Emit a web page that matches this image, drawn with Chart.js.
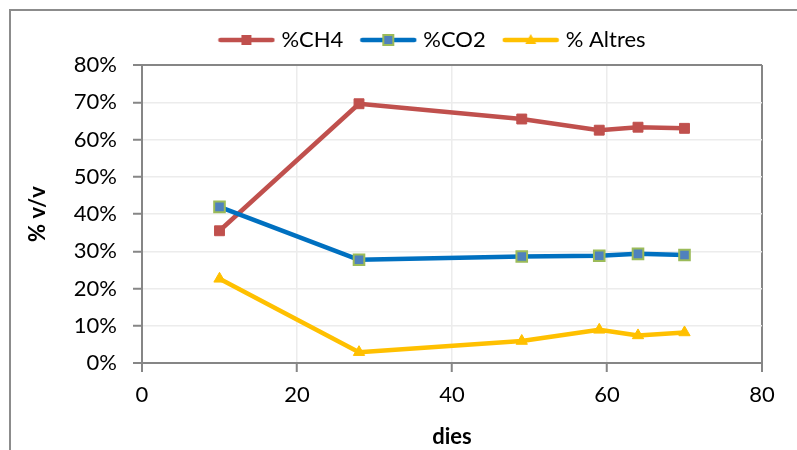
<!DOCTYPE html>
<html>
<head>
<meta charset="utf-8">
<script src="https://cdn.jsdelivr.net/npm/chart.js@4.4.1/dist/chart.umd.min.js"></script>
<style>
  html, body { margin: 0; padding: 0; background: #fff; }
  #wrap { width: 797px; height: 450px; }
</style>
</head>
<body>
<div id="wrap"><canvas id="c" width="797" height="450"></canvas></div>
<script>
// Gas composition over time (percent by volume)
const days   = [10, 28, 49, 59, 64, 70];
const ch4    = [35.5, 69.6, 65.5, 62.5, 63.3, 63.0];
const co2    = [41.9, 27.7, 28.6, 28.8, 29.3, 29.0];
const altres = [22.6, 2.9, 5.9, 8.9, 7.4, 8.2];

const seriesNames = ['%CH4', '%CO2', '% Altres'];
const xTickValues = [0, 20, 40, 60, 80];
const yTickValues = [0, 10, 20, 30, 40, 50, 60, 70, 80];
const xTitle = 'dies';
const yTitle = '% v/v';

const FONT = 'Lato, "Liberation Sans", sans-serif';
const AXIS_GRAY = '#868686';
const GRID_GRAY = '#ececec';
const RED = '#C0504D', BLUE = '#0070C0', MARKER_BLUE = '#4F81BD', GREEN = '#9BBB59', GOLD = '#FFC000';

Chart.defaults.font.family = FONT;
Chart.defaults.font.size = 22;
Chart.defaults.color = '#000';

const points = (ys) => days.map((d, i) => ({ x: d, y: ys[i] }));

// Legend swatches: a short line with the series marker in the middle
function swatch(color, drawMarker) {
  const c = document.createElement('canvas');
  c.width = 58; c.height = 22;
  const g = c.getContext('2d');
  g.strokeStyle = color; g.lineWidth = 4.5; g.lineCap = 'round';
  g.beginPath(); g.moveTo(3, 11); g.lineTo(55, 11); g.stroke();
  drawMarker(g, 29, 11);
  return c;
}
const swatches = [
  swatch(RED, (g, x, y) => { g.fillStyle = RED; g.fillRect(x - 5, y - 5, 10, 10); }),
  swatch(BLUE, (g, x, y) => {
    g.fillStyle = MARKER_BLUE; g.fillRect(x - 5, y - 5, 10, 10);
    g.strokeStyle = GREEN; g.lineWidth = 2; g.strokeRect(x - 5, y - 5, 10, 10);
  }),
  swatch(GOLD, (g, x, y) => {
    g.fillStyle = GOLD; g.beginPath(); g.moveTo(x, y - 6); g.lineTo(x + 5.5, y + 4); g.lineTo(x - 5.5, y + 4); g.closePath(); g.fill();
  })
];

const LEGEND_CENTER_X = 434;
const LEGEND_EXTRA_GAP = 4;

const layoutTweaks = {
  id: 'layoutTweaks',
  afterInit(chart) {
    const lg = chart.legend;
    const fit = lg.fit;
    lg.fit = function () { fit.call(this); this.height += LEGEND_EXTRA_GAP; };
  },
  afterLayout(chart) {
    const lg = chart.legend;
    const dx = LEGEND_CENTER_X - (lg.left + lg.right) / 2;
    lg.left += dx; lg.right += dx;
  },
  beforeDraw(chart) {
    const ctx = chart.ctx;
    ctx.save();
    ctx.fillStyle = '#fff';
    ctx.fillRect(0, 0, chart.width, chart.height);
    ctx.strokeStyle = '#8c8c8c';
    ctx.lineWidth = 2;
    ctx.strokeRect(10, 10, 2000, 2000);
    ctx.restore();
  }
};

const edgeColor = (maxVal) => (ctx) => (ctx.tick && (ctx.tick.value === maxVal || ctx.tick.value === 0)) ? AXIS_GRAY : GRID_GRAY;
const edgeWidth = (maxVal) => (ctx) => (ctx.tick && (ctx.tick.value === maxVal || ctx.tick.value === 0)) ? 2 : 1.5;

new Chart(document.getElementById('c'), {
  type: 'line',
  data: {
    datasets: [
      {
        label: seriesNames[0], data: points(ch4), order: 3,
        borderColor: RED, backgroundColor: RED, borderWidth: 4.5,
        pointStyle: 'rect', pointRadius: 7, pointBackgroundColor: RED, pointBorderColor: RED, pointBorderWidth: 1
      },
      {
        label: seriesNames[1], data: points(co2), order: 2,
        borderColor: BLUE, backgroundColor: BLUE, borderWidth: 4.5,
        pointStyle: 'rect', pointRadius: 7.5, pointBackgroundColor: MARKER_BLUE, pointBorderColor: GREEN, pointBorderWidth: 2
      },
      {
        label: seriesNames[2], data: points(altres), order: 1,
        borderColor: GOLD, backgroundColor: GOLD, borderWidth: 4.5,
        pointStyle: 'triangle', pointRadius: 6.5, pointBackgroundColor: GOLD, pointBorderColor: GOLD, pointBorderWidth: 1
      }
    ]
  },
  options: {
    responsive: false,
    animation: false,
    devicePixelRatio: 1,
    elements: { line: { tension: 0, borderJoinStyle: 'round', borderCapStyle: 'round' } },
    layout: { padding: { left: 0, right: 35, top: 8, bottom: 0 } },
    plugins: {
      tooltip: { enabled: false },
      legend: {
        position: 'top',
        labels: {
          usePointStyle: true,
          pointStyleWidth: 48,
          padding: 21,
          font: { size: 22 },
          color: '#000',
          generateLabels: (chart) => chart.data.datasets.map((ds, i) => ({
            text: ds.label, pointStyle: swatches[i], fillStyle: ds.borderColor,
            strokeStyle: ds.borderColor, lineWidth: 0, hidden: false, datasetIndex: i
          }))
        }
      }
    },
    scales: {
      x: {
        type: 'linear', position: 'bottom', min: 0, max: 80,
        afterBuildTicks: (s) => { s.ticks = xTickValues.map(v => ({ value: v })); },
        afterFit: (s) => { s.height = 87; },
        grid: { color: edgeColor(80), lineWidth: edgeWidth(80), tickColor: AXIS_GRAY, tickLength: 9, tickWidth: 2 },
        border: { color: AXIS_GRAY, width: 2 },
        ticks: { padding: 10, maxRotation: 0, color: '#000', font: { size: 22 } },
        title: { display: true, text: xTitle, color: '#000', font: { size: 22, weight: 'bold' }, padding: { top: 0, bottom: 0 } }
      },
      y: {
        type: 'linear', position: 'left', min: 0, max: 80,
        afterBuildTicks: (s) => { s.ticks = yTickValues.map(v => ({ value: v })); },
        afterFit: (s) => { s.width = 142; },
        grid: { color: edgeColor(80), lineWidth: edgeWidth(80), tickColor: AXIS_GRAY, tickLength: 9, tickWidth: 2 },
        border: { color: AXIS_GRAY, width: 2 },
        ticks: { padding: 16, color: '#000', font: { size: 22 }, callback: (v) => v + '%' },
        title: { display: true, text: yTitle, color: '#000', font: { size: 22, weight: 'bold' }, padding: { top: 25, bottom: 0 } }
      }
    }
  },
  plugins: [layoutTweaks]
});
</script>
</body>
</html>
